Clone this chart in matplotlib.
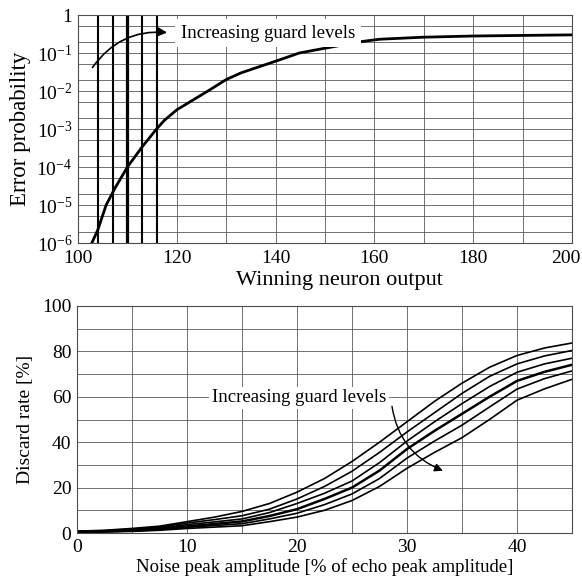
import matplotlib
matplotlib.use('Agg')
import matplotlib.pyplot as plt
from matplotlib.ticker import FixedLocator, NullFormatter, FixedFormatter
from matplotlib.transforms import ScaledTranslation

plt.rcParams['font.family'] = ['Liberation Serif', 'DejaVu Serif']
plt.rcParams['mathtext.fontset'] = 'custom'
plt.rcParams['mathtext.rm'] = 'Liberation Serif'
plt.rcParams['mathtext.it'] = 'Liberation Serif:italic'

# ---------------- data: top panel ----------------
err_x = [102.8, 104, 105.7, 107.5, 110, 113, 115.9, 117.5, 120, 123, 126.3,
         130, 133, 137, 140.8, 144.8, 149.5, 157.4, 161, 169.7, 180, 190, 200]
err_y = [1e-6, 2.2e-6, 1e-5, 2.8e-5, 1e-4, 3.4e-4, 1e-3, 1.7e-3, 3.2e-3,
         5.5e-3, 1e-2, 2e-2, 3e-2, 4.5e-2, 6.6e-2, 1e-1, 1.3e-1, 2e-1, 2.3e-1,
         2.6e-1, 2.8e-1, 2.9e-1, 3e-1]
guard_x = [104, 107, 110, 113, 116]
guard_lw = [1.5, 1.5, 2.3, 1.5, 1.5]
top_xticks = [100, 120, 140, 160, 180, 200]
top_yticks = [1e-6, 1e-5, 1e-4, 1e-3, 1e-2, 1e-1, 1]
top_ylabels = [r'$10^{-6}$', r'$10^{-5}$', r'$10^{-4}$', r'$10^{-3}$',
               r'$10^{-2}$', r'$10^{-1}$', '1']

# ---------------- data: bottom panel ----------------
noise_x = [0, 2.5, 5, 7.5, 10, 12.5, 15, 17.5, 20, 22.5, 25, 27.5, 30, 32.5,
           35, 37.5, 40, 42.5, 45]
disc_1 = [0.8, 1.2, 2.0, 3.0, 5.0, 7.0, 9.5, 13, 18, 24, 31.5, 40, 49, 58, 66,
          73, 78.2, 81.5, 83.7]
disc_2 = [0.7, 1.0, 1.7, 2.6, 4.4, 5.9, 7.6, 10.5, 15, 20.5, 27.2, 35.5, 44.5,
          53, 61.5, 69, 74.5, 78, 80.4]
disc_3 = [0.6, 0.9, 1.4, 2.2, 3.7, 4.9, 6.2, 9.0, 13, 17.5, 22.9, 31, 40.5, 49,
          57, 64.5, 70.8, 74.5, 77]
disc_4 = [0.5, 0.7, 1.1, 1.8, 2.9, 4.0, 5.1, 7.5, 10.5, 15, 20, 27.5, 37, 45,
          52.5, 60, 67, 71, 74.1]
disc_5 = [0.4, 0.6, 0.9, 1.5, 2.5, 3.3, 4.1, 6.2, 8.7, 12.5, 17.2, 24, 33, 40.5,
          47.5, 55.5, 63.4, 68, 71.4]
disc_6 = [0.3, 0.5, 0.7, 1.2, 2.0, 2.6, 3.2, 5.0, 7.0, 10, 14.3, 20.5, 28.5,
          35.5, 42, 50, 58.5, 63.5, 67.7]
disc_series = [disc_1, disc_2, disc_3, disc_4, disc_5, disc_6]
disc_lw = [1.2, 1.2, 1.2, 1.8, 1.2, 1.2]
bot_xticks = [0, 10, 20, 30, 40]
bot_yticks = [0, 20, 40, 60, 80, 100]

GRID = dict(color='0.35', linewidth=0.6)

fig = plt.figure(figsize=(5.82, 5.76), dpi=100)

# ---------------- top axes ----------------
ax1 = fig.add_axes([78/582, 1-243/576, 494/582, 228/576])
ax1.set_yscale('log')
ax1.set_xlim(100, 200)
ax1.set_ylim(1e-6, 1)
ax1.xaxis.set_major_locator(FixedLocator(top_xticks))
ax1.xaxis.set_minor_locator(FixedLocator(list(range(100, 201, 10))))
ax1.yaxis.set_major_locator(FixedLocator(top_yticks))
ax1.yaxis.set_major_formatter(FixedFormatter(top_ylabels))
minor_y = []
for d in range(-6, 0):
    minor_y += [2 * 10.0**d, 5 * 10.0**d]
ax1.yaxis.set_minor_locator(FixedLocator(minor_y))
ax1.yaxis.set_minor_formatter(NullFormatter())
ax1.grid(True, which='both', **GRID)
ax1.tick_params(which='both', length=0, labelsize=14, pad=4)
ax1.tick_params(axis='x', pad=5)
for s in ax1.spines.values():
    s.set_linewidth(0.8)
    s.set_color('0.3')

for gx, lw in zip(guard_x, guard_lw):
    ax1.plot([gx, gx], [1e-6, 1], color='black', linewidth=lw)
ax1.plot(err_x, err_y, color='black', linewidth=2.0)

ax1.text(120.8, 0.33, 'Increasing guard levels', fontsize=13.5,
         va='center', ha='left', zorder=5,
         bbox=dict(facecolor='white', edgecolor='none', pad=4))
ax1.annotate('', xy=(118.6, 0.34), xytext=(102.6, 0.036),
             arrowprops=dict(arrowstyle='-|>', color='black', lw=1.2,
                             mutation_scale=14,
                             connectionstyle='arc3,rad=-0.3'))
ax1.set_xlabel('Winning neuron output', fontsize=16)
ax1.xaxis.set_label_coords(0.53, -0.125)
ax1.set_ylabel('Error probability', fontsize=16.5, labelpad=4)

# keep the last tick label inside the figure
fig.canvas.draw()
last = ax1.get_xticklabels()[-1]
last.set_transform(last.get_transform() +
                   ScaledTranslation(-6/100, 0, fig.dpi_scale_trans))

# ---------------- bottom axes ----------------
ax2 = fig.add_axes([77/582, 1-533/576, 495/582, 227/576])
ax2.set_xlim(0, 45)
ax2.set_ylim(0, 100)
ax2.xaxis.set_major_locator(FixedLocator(bot_xticks))
ax2.xaxis.set_minor_locator(FixedLocator(list(range(0, 46, 5))))
ax2.yaxis.set_major_locator(FixedLocator(bot_yticks))
ax2.yaxis.set_minor_locator(FixedLocator(list(range(0, 101, 10))))
ax2.grid(True, which='both', **GRID)
ax2.tick_params(which='both', length=0, labelsize=14, pad=4)
for s in ax2.spines.values():
    s.set_linewidth(0.8)
    s.set_color('0.3')

for ys, lw in zip(disc_series, disc_lw):
    ax2.plot(noise_x, ys, color='black', linewidth=lw)

ax2.text(12.3, 59.5, 'Increasing guard levels', fontsize=13.5,
         va='center', ha='left', zorder=5,
         bbox=dict(facecolor='white', edgecolor='none', pad=2))
ax2.annotate('', xy=(33.5, 27), xytext=(28.6, 57),
             arrowprops=dict(arrowstyle='-|>', color='black', lw=1.0,
                             mutation_scale=12,
                             connectionstyle='arc3,rad=0.3'))
ax2.set_xlabel('Noise peak amplitude [% of echo peak amplitude]', fontsize=13.5,
               labelpad=2)
ax2.set_ylabel('Discard rate [%]', fontsize=14, labelpad=6)

fig.savefig('out.png', dpi=100)
